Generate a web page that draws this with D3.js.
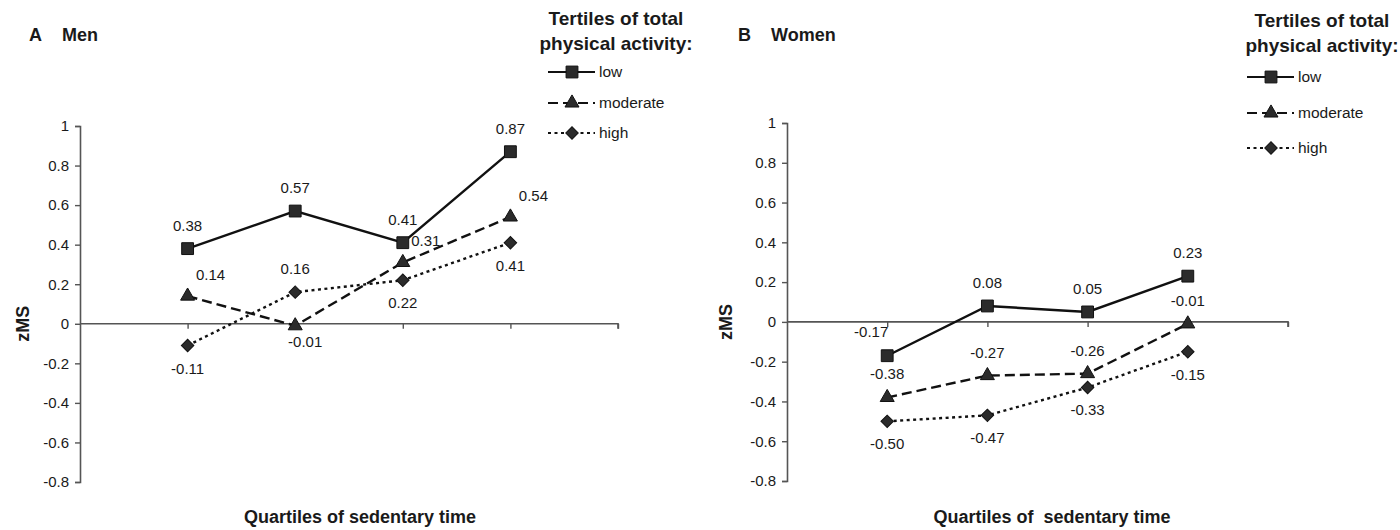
<!DOCTYPE html>
<html>
<head>
<meta charset="utf-8">
<script src="https://cdn.jsdelivr.net/npm/d3@7"></script>
<style>
  body { margin: 0; background: #fff; }
  svg { display: block; }
  text { font-family: "Liberation Sans", Arial, sans-serif; fill: #1a1a1a; }
  .bold { font-weight: bold; }
</style>
</head>
<body>
<svg id="chart" width="1400" height="530"></svg>
<script>
// data
const quartiles = [1, 2, 3, 4];
const tertiles = ["low", "moderate", "high"];
const yTicks = [1, 0.8, 0.6, 0.4, 0.2, 0, -0.2, -0.4, -0.6, -0.8];

const menLow = [0.38, 0.57, 0.41, 0.87];
const menModerate = [0.14, -0.01, 0.31, 0.54];
const menHigh = [-0.11, 0.16, 0.22, 0.41];

const womenLow = [-0.17, 0.08, 0.05, 0.23];
const womenModerate = [-0.38, -0.27, -0.26, -0.01];
const womenHigh = [-0.50, -0.47, -0.33, -0.15];

// where each data label sits relative to its point
const menLabelPos = [
  ["t", "t", "t", "t"],
  ["tr", "br", "tr", "tr"],
  ["b", "t", "b", "b"]
];
const womenLabelPos = [
  ["tl", "t", "t", "t"],
  ["t", "t", "t", "t"],
  ["b", "b", "b", "b"]
];

const svg = d3.select("#chart");

const offsets = {
  t: [0, -22], b: [0, 24], tr: [23, -20], br: [10, 17], tl: [-16, -23]
};
const dashes = [null, "10,5", "3,3.5"];

function marker(i) {
  if (i === 0) return d3.symbol().type(d3.symbolSquare).size(140)();
  if (i === 1) return d3.symbol().type(d3.symbolTriangle).size(85)();
  return d3.symbol().type(d3.symbolSquare).size(78)();
}

function drawPanel(opt) {
  const g = svg.append("g");
  const x = d3.scaleLinear().domain([0, 5]).range(opt.xRange);
  const y = d3.scaleLinear().domain([-0.8, 1]).range(opt.yRange);

  // y axis
  const yAxis = g.append("g")
    .attr("transform", `translate(${opt.xRange[0]},0)`)
    .call(d3.axisLeft(y).tickValues(yTicks).tickSize(5).tickPadding(6)
      .tickFormat(d => d3.format("")(d)));
  yAxis.select(".domain").attr("stroke", "#555").attr("stroke-width", 1.6);
  yAxis.selectAll(".tick line").attr("stroke", "#555").attr("stroke-width", 1.4);
  yAxis.selectAll(".tick text")
    .attr("font-family", "Liberation Sans, Arial, sans-serif")
    .attr("font-size", 15).attr("fill", "#1a1a1a")
    .text(d => d === 0 ? "0" : String(d).replace("−", "-"));

  // x axis on zero line
  const xAxis = g.append("g")
    .attr("transform", `translate(0,${y(0)})`)
    .call(d3.axisBottom(x).tickValues([1, 2, 3, 4, 5]).tickSize(5).tickFormat(""));
  xAxis.select(".domain").attr("stroke", "#555").attr("stroke-width", 1.6)
    .attr("d", `M${opt.xRange[0]},0H${opt.xRange[1]}V5`);
  xAxis.selectAll(".tick line").attr("stroke", "#555").attr("stroke-width", 1.4);

  const line = d3.line().x((d, i) => x(quartiles[i])).y(d => y(d));

  opt.series.forEach((vals, si) => {
    g.append("path")
      .datum(vals)
      .attr("d", line)
      .attr("fill", "none")
      .attr("stroke", "#111")
      .attr("stroke-width", 2.4)
      .attr("stroke-dasharray", dashes[si]);

    g.selectAll(null)
      .data(vals)
      .join("path")
      .attr("d", marker(si))
      .attr("transform", (d, i) =>
        `translate(${x(quartiles[i])},${y(d)})` + (si === 2 ? " rotate(45)" : ""))
      .attr("fill", "#2b2b2b")
      .attr("stroke", "#111")
      .attr("stroke-width", 1);

    g.selectAll(null)
      .data(vals)
      .join("text")
      .attr("x", (d, i) => x(quartiles[i]) + offsets[opt.labelPos[si][i]][0])
      .attr("y", (d, i) => y(d) + offsets[opt.labelPos[si][i]][1])
      .attr("text-anchor", "middle")
      .attr("dominant-baseline", "middle")
      .attr("font-size", 15)
      .text(d => d3.format(".2f")(d).replace("−", "-"));
  });

  // panel title
  g.append("text").attr("class", "bold")
    .attr("x", opt.letterX).attr("y", 41).attr("font-size", 18)
    .text(opt.letter);
  g.append("text").attr("class", "bold")
    .attr("x", opt.letterX + 33).attr("y", 41).attr("font-size", 18)
    .text(opt.title);

  // y title
  g.append("text").attr("class", "bold")
    .attr("transform", `translate(${opt.yTitleX},${y(0)}) rotate(-90)`)
    .attr("text-anchor", "middle").attr("font-size", 18)
    .text("zMS");

  // x title
  g.append("text").attr("class", "bold")
    .attr("x", opt.xTitleX).attr("y", 523)
    .attr("text-anchor", "middle").attr("font-size", 18)
    .style("white-space", "pre")
    .text(opt.xTitle);

  // legend
  const lg = g.append("g");
  lg.append("text").attr("class", "bold")
    .attr("x", opt.legendTitleX).attr("y", opt.legendTitleY)
    .attr("text-anchor", "middle").attr("font-size", 19)
    .text("Tertiles of total");
  lg.append("text").attr("class", "bold")
    .attr("x", opt.legendTitleX).attr("y", opt.legendTitleY + 25)
    .attr("text-anchor", "middle").attr("font-size", 19)
    .text("physical activity:");

  const items = lg.selectAll(".item")
    .data(tertiles)
    .join("g")
    .attr("transform", (d, i) => `translate(${opt.legendX},${opt.legendY[i]})`);
  items.append("line")
    .attr("x1", 0).attr("x2", 47)
    .attr("stroke", "#111").attr("stroke-width", 2.2)
    .attr("stroke-dasharray", (d, i) => dashes[i]);
  items.append("path")
    .attr("d", (d, i) => marker(i))
    .attr("transform", (d, i) => "translate(24,0)" + (i === 2 ? " rotate(45)" : ""))
    .attr("fill", "#2b2b2b").attr("stroke", "#111").attr("stroke-width", 1);
  items.append("text")
    .attr("x", 51).attr("dy", "0.35em").attr("font-size", 15.5)
    .text(d => d);
}

drawPanel({
  xRange: [80, 618], yRange: [482, 126],
  series: [menLow, menModerate, menHigh], labelPos: menLabelPos,
  letter: "A", letterX: 29, title: "Men",
  yTitleX: 29, xTitleX: 360, xTitle: "Quartiles of sedentary time",
  legendTitleX: 616, legendTitleY: 25,
  legendX: 548, legendY: [72, 103, 133]
});

drawPanel({
  xRange: [787, 1288], yRange: [481, 123],
  series: [womenLow, womenModerate, womenHigh], labelPos: womenLabelPos,
  letter: "B", letterX: 738, title: "Women",
  yTitleX: 732, xTitleX: 1052, xTitle: "Quartiles of  sedentary time",
  legendTitleX: 1322, legendTitleY: 27,
  legendX: 1247, legendY: [77, 113, 148]
});
</script>
</body>
</html>
